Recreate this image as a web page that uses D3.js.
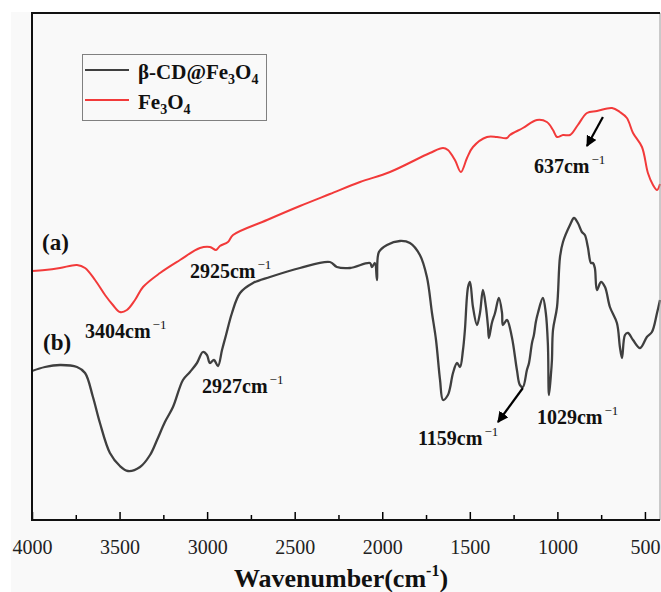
<!DOCTYPE html>
<html>
<head>
<meta charset="utf-8">
<script src="https://cdn.jsdelivr.net/npm/d3@7"></script>
<style>
  html, body { margin: 0; padding: 0; background: #ffffff; }
  svg { display: block; }
  svg text { font-family: 'Liberation Serif', 'Times New Roman', serif; }
</style>
</head>
<body>
<svg id="chart" width="661" height="592"></svg>
<script>
// ── Data (wavenumber in cm-1, transmittance in arbitrary units) ─────────
const fe3o4Wave = [4000, 3926, 3840, 3743, 3697, 3640, 3583, 3538, 3498, 3458, 3412, 3366, 3269, 3155,
  3041, 2984, 2949, 2927, 2881, 2852, 2658, 2470, 2299, 2127, 1956, 1728, 1653, 1625, 1585, 1551, 1516,
  1482, 1402, 1345, 1288, 1271, 1197, 1117, 1060, 1025, 1002, 968, 928, 883, 831, 774, 688, 643, 603,
  568, 517, 483, 454, 431, 414];
const fe3o4Trans = [249, 250, 252, 255, 252, 240, 225, 215, 208, 210, 220, 233, 247, 260,
  272, 273, 270, 274, 278, 285, 300, 314, 326, 338, 348, 367, 372, 370, 360, 348, 362,
  373, 383, 383, 382, 385, 392, 400, 398, 390, 383, 385, 385, 395, 407, 409, 412, 408, 402,
  387, 373, 347, 335, 330, 336];

const cdWave = [4000, 3926, 3840, 3743, 3697, 3652, 3612, 3555, 3498, 3452, 3383, 3326, 3286, 3241,
  3195, 3138, 3098, 3058, 3024, 3001, 2984, 2961, 2938, 2915, 2892, 2858, 2812, 2738, 2641, 2470,
  2299, 2259, 2184, 2070, 2059, 2042, 2030, 2019, 1973, 1899, 1842, 1785, 1745, 1716, 1693, 1670,
  1653, 1625, 1613, 1596, 1573, 1556, 1539, 1528, 1510, 1499, 1482, 1459, 1442, 1425, 1408, 1396,
  1391, 1374, 1356, 1334, 1316, 1311, 1288, 1260, 1231, 1214, 1197, 1174, 1162, 1145, 1134, 1123,
  1111, 1083, 1066, 1054, 1048, 1037, 1031, 1025, 1002, 985, 968, 928, 905, 883, 860, 843, 826,
  808, 797, 786, 774, 751, 728, 700, 660, 643, 631, 614, 597, 568, 528, 489, 460, 431, 414];
const cdTrans = [149, 153, 155, 153, 147, 123, 97, 67, 54, 49, 53, 65, 80, 98,
  113, 140, 148, 157, 168, 165, 157, 160, 154, 170, 185, 207, 227, 237, 243, 252,
  258, 253, 252, 257, 253, 257, 240, 268, 275, 279, 277, 265, 243, 207, 180, 140,
  120, 125, 132, 147, 157, 153, 170, 190, 233, 238, 213, 195, 207, 230, 213, 193,
  182, 197, 207, 222, 207, 195, 200, 183, 150, 135, 133, 150, 157, 177, 185, 198,
  207, 222, 207, 175, 125, 145, 160, 190, 213, 263, 278, 295, 302, 297, 288, 285, 273,
  257, 257, 252, 230, 238, 233, 213, 197, 173, 162, 185, 187, 180, 172, 183, 188, 207, 220];

const majorTicks = [4000, 3500, 3000, 2500, 2000, 1500, 1000, 500];
const minorTicks = [3750, 3250, 2750, 2250, 1750, 1250, 750];

const seriesNames = ['β-CD@Fe3O4', 'Fe3O4'];
const seriesColors = ['#3f3f3f', '#f23a3a'];

// peak labels: [wavenumber at text start, transmittance at baseline, number]
const peakLabelWave = [3697, 3098, 3029, 1796, 1117, 1134];
const peakLabelTrans = [182, 242, 127, 75, 96, 347];
const peakLabelText = ['3404', '2925', '2927', '1159', '1029', '637'];

// arrows: tail and head in data units
const arrowTailWave = [740, 1197];
const arrowTailTrans = [403, 132];
const arrowHeadWave = [831, 1339];
const arrowHeadTrans = [374, 98];

// panel letters
const panelWave = [3943, 3937];
const panelTrans = [270, 170];
const panelText = ['(a)', '(b)'];

// ── Layout ──────────────────────────────────────────────────────────────
const MARGIN = {left: 32, right: 1, top: 13, bottom: 72};
const WIDTH = 661;
const HEIGHT = 592;
const SERIF = "'Liberation Serif', 'Times New Roman', serif";

const svg = d3.select('#chart');

svg.append('rect')
  .attr('x', 11).attr('y', 12)
  .attr('width', WIDTH - 11).attr('height', HEIGHT - 12)
  .attr('fill', '#f9f9f9');

const x = d3.scaleLinear()
  .domain([4000, 414])
  .range([MARGIN.left, WIDTH - MARGIN.right]);

const y = d3.scaleLinear()
  .domain([0, 507])
  .range([HEIGHT - MARGIN.bottom, MARGIN.top]);

const line = d3.line()
  .x((d) => x(d[0]))
  .y((d) => y(d[1]))
  .curve(d3.curveCatmullRom.alpha(0.5));

const redData = d3.zip(fe3o4Wave, fe3o4Trans);
const blackData = d3.zip(cdWave, cdTrans);

svg.append('path')
  .datum(blackData)
  .attr('d', line)
  .attr('fill', 'none')
  .attr('stroke', seriesColors[0])
  .attr('stroke-width', 2.3)
  .attr('stroke-linejoin', 'round');

svg.append('path')
  .datum(redData)
  .attr('d', line)
  .attr('fill', 'none')
  .attr('stroke', seriesColors[1])
  .attr('stroke-width', 2)
  .attr('stroke-linejoin', 'round');

// ── Frame and axis ──────────────────────────────────────────────────────
const x0 = x.range()[0], x1 = x.range()[1];
const yTop = y.range()[1], yBot = y.range()[0];

svg.append('line')
  .attr('x1', x1).attr('x2', x1).attr('y1', yTop).attr('y2', yBot)
  .attr('stroke', '#9a9a9a').attr('stroke-width', 1);

const xAxis = svg.append('g')
  .attr('transform', `translate(0,${yBot})`)
  .call(d3.axisBottom(x).tickValues(majorTicks).tickSize(-8).tickPadding(20).tickFormat(d3.format('d')));
xAxis.attr('font-family', null);
xAxis.select('.domain').remove();
xAxis.selectAll('.tick line').attr('stroke', '#000').attr('stroke-width', 1.5);
xAxis.selectAll('.tick text')
  .style('font-family', SERIF)
  .style('font-size', '20px')
  .attr('fill', '#222');

const minorAxis = svg.append('g')
  .attr('transform', `translate(0,${yBot})`)
  .call(d3.axisBottom(x).tickValues(minorTicks).tickSize(-5).tickFormat(''));
minorAxis.select('.domain').remove();
minorAxis.selectAll('.tick line').attr('stroke', '#000').attr('stroke-width', 1.5);

svg.append('path')
  .attr('d', `M${x1},${yTop}H${x0}V${yBot}H${x1}`)
  .attr('fill', 'none')
  .attr('stroke', '#111')
  .attr('stroke-width', 2);

const title = svg.append('text')
  .attr('x', 341).attr('y', 587)
  .attr('text-anchor', 'middle')
  .attr('font-size', 26)
  .attr('font-weight', 'bold')
  .attr('fill', '#111');
title.append('tspan').text('Wavenumber(cm');
title.append('tspan').attr('font-size', 16).attr('dy', -11).text('-1');
title.append('tspan').attr('dy', 11).text(')');

// ── Annotations ─────────────────────────────────────────────────────────
panelText.forEach((t, i) => {
  svg.append('text')
    .attr('x', x(panelWave[i])).attr('y', y(panelTrans[i]))
    .attr('font-size', 23).attr('font-weight', 'bold').attr('fill', '#111')
    .text(t);
});

peakLabelText.forEach((t, i) => {
  const label = svg.append('text')
    .attr('x', x(peakLabelWave[i])).attr('y', y(peakLabelTrans[i]))
    .attr('font-size', 20).attr('font-weight', 'bold').attr('fill', '#111');
  label.append('tspan').text(`${t}cm`);
  label.append('tspan').attr('font-size', 13).attr('font-weight', 'normal')
    .attr('dx', 2).attr('dy', -9).text('−1');
});

svg.append('defs').append('marker')
  .attr('id', 'head')
  .attr('viewBox', '0 0 10 10')
  .attr('refX', 9).attr('refY', 5)
  .attr('markerWidth', 5).attr('markerHeight', 5)
  .attr('markerUnits', 'strokeWidth')
  .attr('orient', 'auto')
  .append('path')
  .attr('d', 'M0,0L10,5L0,10z')
  .attr('fill', '#000');

arrowTailWave.forEach((w, i) => {
  svg.append('line')
    .attr('x1', x(w)).attr('y1', y(arrowTailTrans[i]))
    .attr('x2', x(arrowHeadWave[i])).attr('y2', y(arrowHeadTrans[i]))
    .attr('stroke', '#000').attr('stroke-width', 2.2)
    .attr('marker-end', 'url(#head)');
});

// ── Legend ──────────────────────────────────────────────────────────────
const legend = svg.append('g');
legend.append('rect')
  .attr('x', 82.5).attr('y', 54.5).attr('width', 184).attr('height', 66)
  .attr('fill', 'none').attr('stroke', '#808080').attr('stroke-width', 1);

seriesNames.forEach((name, i) => {
  const ly = 70 + i * 30;
  legend.append('line')
    .attr('x1', 85).attr('x2', 129).attr('y1', ly).attr('y2', ly)
    .attr('stroke', seriesColors[i]).attr('stroke-width', 2);
  const txt = legend.append('text')
    .attr('x', 138).attr('y', ly + 9)
    .attr('font-size', 21).attr('font-weight', 'bold').attr('fill', '#111');
  // split formula so the digits become subscripts
  name.split(/(\d)/).filter((s) => s.length).forEach((part) => {
    if (/\d/.test(part)) {
      txt.append('tspan').attr('font-size', 14).attr('dy', 5).text(part);
    } else {
      const sp = txt.append('tspan').text(part);
      if (txt.selectAll('tspan').size() > 1) sp.attr('dy', -5);
    }
  });
});
</script>
</body>
</html>
